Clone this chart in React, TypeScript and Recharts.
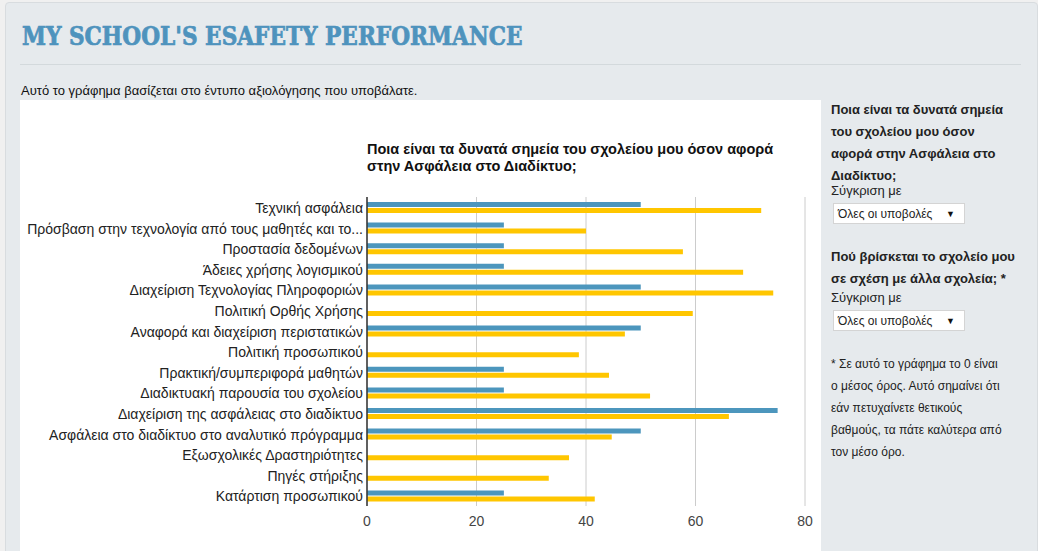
import { BarChart, Bar, XAxis, YAxis, CartesianGrid } from 'recharts';

const categories = [
  'Τεχνική ασφάλεια',
  'Πρόσβαση στην τεχνολογία από τους μαθητές και το...',
  'Προστασία δεδομένων',
  'Άδειες χρήσης λογισμικού',
  'Διαχείριση Τεχνολογίας Πληροφοριών',
  'Πολιτική Ορθής Χρήσης',
  'Αναφορά και διαχείριση περιστατικών',
  'Πολιτική προσωπικού',
  'Πρακτική/συμπεριφορά μαθητών',
  'Διαδικτυακή παρουσία του σχολείου',
  'Διαχείριση της ασφάλειας στο διαδίκτυο',
  'Ασφάλεια στο διαδίκτυο στο αναλυτικό πρόγραμμα',
  'Εξωσχολικές Δραστηριότητες',
  'Πηγές στήριξης',
  'Κατάρτιση προσωπικού',
];

const schoolValues = [50, 25, 25, 25, 50, 0, 50, 0, 25, 25, 75, 50, 0, 0, 25];
const allValues = [72, 40, 57.7, 68.7, 74.2, 59.5, 47.1, 38.7, 44.2, 51.7, 66.1, 44.7, 36.9, 33.2, 41.6];

const xTicks = [0, 20, 40, 60, 80];

const data = categories.map((name, i) => ({
  name,
  school: schoolValues[i],
  all: allValues[i],
}));

const BLUE = '#4c96bd';
const YELLOW = '#ffc600';
const FONT = '"Liberation Sans", Arial, sans-serif';

// plain text tick so long labels don't wrap
const CategoryTick = (props: any) => {
  const { x, y, payload } = props;
  return (
    <text x={x} y={y} dy="0.4em" textAnchor="end" fontSize={14} fill="#222" fontFamily={FONT}>
      {payload.value}
    </text>
  );
};

const selectBox = (top: number) => (
  <div
    style={{
      position: 'absolute',
      left: 833,
      top,
      width: 132,
      height: 21,
      background: '#fff',
      border: '1px solid #d4d4d4',
      fontSize: 12,
      lineHeight: '20px',
      color: '#222',
      paddingLeft: 4,
      boxSizing: 'border-box',
    }}
  >
    Όλες οι υποβολές
    <span style={{ position: 'absolute', right: 9, top: 0, fontSize: 9, color: '#111' }}>▼</span>
  </div>
);

export default function App() {
  return (
    <div
      style={{
        position: 'absolute',
        left: 0,
        top: 0,
        width: 1038,
        height: 551,
        background: '#f0f0f0',
        overflow: 'hidden',
        fontFamily: FONT,
      }}
    >
      <div
        style={{
          position: 'absolute',
          left: 5,
          top: 2,
          width: 1031,
          height: 560,
          background: '#e6eaed',
          border: '1px solid #d8dcdf',
          borderRadius: 4,
        }}
      />
      <div
        style={{
          position: 'absolute',
          left: 22,
          top: 21,
          fontFamily: '"DejaVu Serif Condensed", "DejaVu Serif", serif',
          fontWeight: 'bold',
          fontSize: 26,
          lineHeight: '30px',
          color: '#4e93bd',
          WebkitTextStroke: '0.7px #4e93bd',
          whiteSpace: 'nowrap',
          transform: 'scaleX(0.926)',
          transformOrigin: 'left center',
        }}
      >
        MY SCHOOL'S ESAFETY PERFORMANCE
      </div>
      <div style={{ position: 'absolute', left: 20, top: 64, width: 1001, height: 1, background: '#d3d9dc' }} />
      <div style={{ position: 'absolute', left: 21, top: 83, fontSize: 13, color: '#111' }}>
        Αυτό το γράφημα βασίζεται στο έντυπο αξιολόγησης που υποβάλατε.
      </div>

      <div style={{ position: 'absolute', left: 20, top: 100, width: 801, height: 451, background: '#fff' }}>
        <div
          style={{
            position: 'absolute',
            left: 347,
            top: 41,
            fontSize: 14.5,
            fontWeight: 'bold',
            lineHeight: '17px',
            color: '#111',
            whiteSpace: 'nowrap',
          }}
        >
          Ποια είναι τα δυνατά σημεία του σχολείου μου όσον αφορά
          <br />
          στην Ασφάλεια στο Διαδίκτυο;
        </div>
        <BarChart
          width={800}
          height={451}
          data={data}
          layout="vertical"
          margin={{ top: 97, right: 15, left: 0, bottom: 15 }}
          barSize={5}
          barGap={1}
        >
          <CartesianGrid vertical horizontal={false} stroke="#cccccc" strokeWidth={1} />
          <XAxis
            type="number"
            domain={[0, 80]}
            ticks={xTicks}
            axisLine={false}
            tickLine={false}
            tickSize={6}
            tickMargin={4}
            height={30}
            tick={{ fontSize: 14, fill: '#444', fontFamily: FONT }}
          />
          <YAxis
            type="category"
            dataKey="name"
            width={347}
            axisLine={{ stroke: '#333', strokeWidth: 1.5 }}
            tickLine={false}
            tickSize={4}
            tickMargin={0}
            interval={0}
            tick={<CategoryTick />}
          />
          <Bar dataKey="school" fill={BLUE} isAnimationActive={false} />
          <Bar dataKey="all" fill={YELLOW} isAnimationActive={false} />
        </BarChart>
      </div>

      <div style={{ position: 'absolute', left: 831, top: 99, fontSize: 13, fontWeight: 'bold', lineHeight: '22px', color: '#222' }}>
        Ποια είναι τα δυνατά σημεία
        <br />
        του σχολείου μου όσον
        <br />
        αφορά στην Ασφάλεια στο
        <br />
        Διαδίκτυο;
      </div>
      <div style={{ position: 'absolute', left: 831, top: 182, fontSize: 13, lineHeight: '18px', color: '#222' }}>Σύγκριση με</div>
      {selectBox(203)}

      <div style={{ position: 'absolute', left: 831, top: 246, fontSize: 13, fontWeight: 'bold', lineHeight: '22px', color: '#222' }}>
        Πού βρίσκεται το σχολείο μου
        <br />
        σε σχέση με άλλα σχολεία; *
      </div>
      <div style={{ position: 'absolute', left: 831, top: 289, fontSize: 13, lineHeight: '18px', color: '#222' }}>Σύγκριση με</div>
      {selectBox(310)}

      <div style={{ position: 'absolute', left: 831, top: 353, fontSize: 12, lineHeight: '22px', color: '#222' }}>
        * Σε αυτό το γράφημα το 0 είναι
        <br />
        ο μέσος όρος. Αυτό σημαίνει ότι
        <br />
        εάν πετυχαίνετε θετικούς
        <br />
        βαθμούς, τα πάτε καλύτερα από
        <br />
        τον μέσο όρο.
      </div>
    </div>
  );
}
